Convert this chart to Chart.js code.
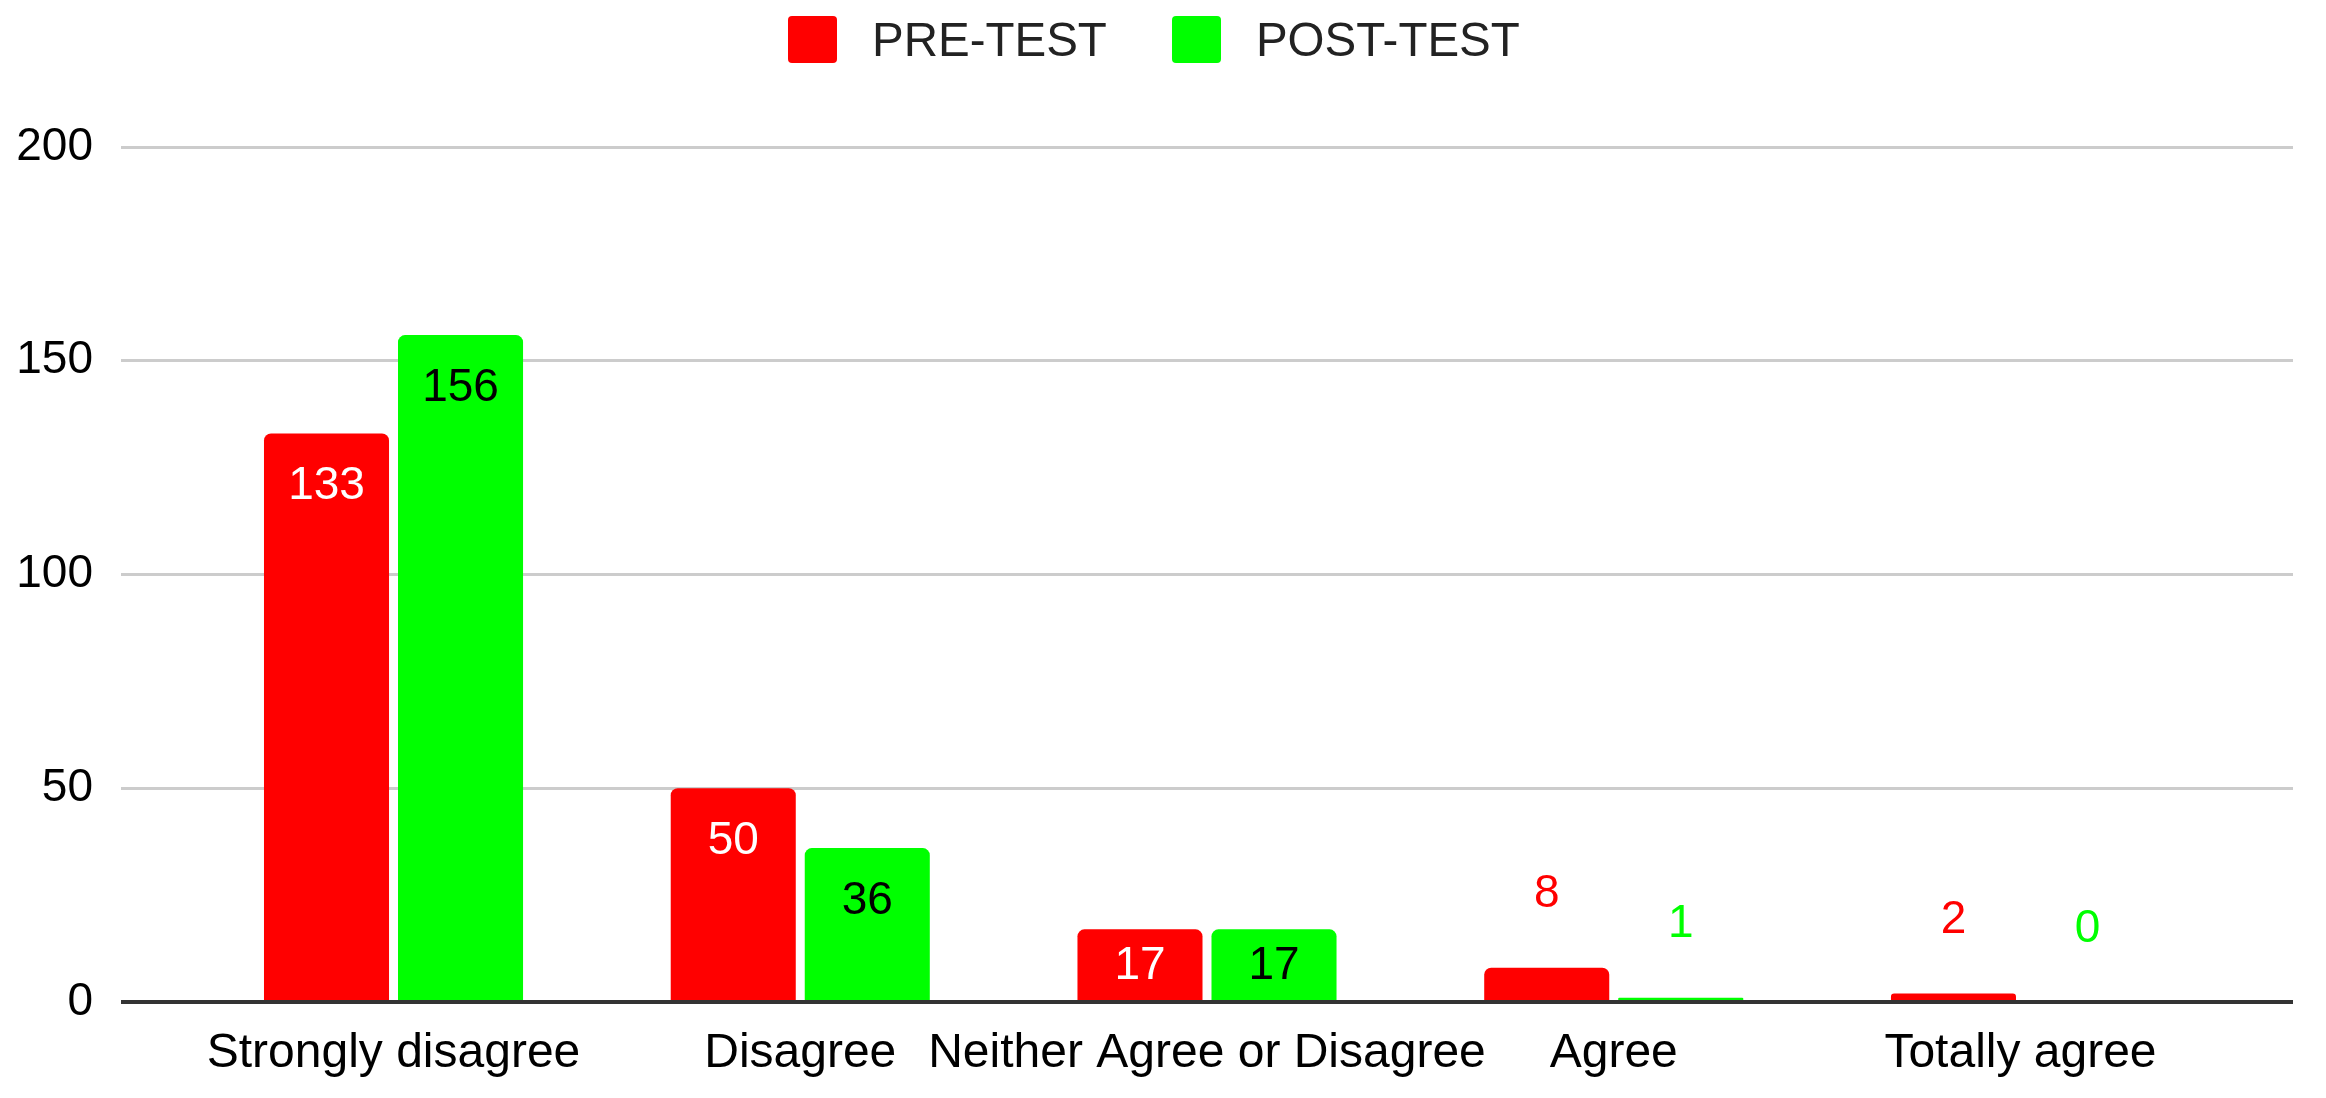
<!DOCTYPE html>
<html>
<head>
<meta charset="utf-8">
<script src="https://cdn.jsdelivr.net/npm/chart.js@4/dist/chart.umd.min.js"></script>
<style>
    html, body { margin: 0; padding: 0; background: #ffffff; }
    #wrap { position: relative; width: 2326px; height: 1098px; }
    #legend {
        position: absolute; top: 16px; left: 788px;
        display: flex; align-items: center;
        font-family: "Liberation Sans", Arial, sans-serif; font-size: 47.5px; color: #222222;
    }
    #legend .box { width: 49px; height: 47px; border-radius: 4px; margin-right: 35px; }
    #legend .item { display: flex; align-items: center; margin-right: 65px; line-height: 47px; }
</style>
</head>
<body>
<div id="wrap">
    <canvas id="surveyChart" width="2326" height="1098"></canvas>
    <div id="legend"></div>
</div>
<script>
const categories = ['Strongly disagree', 'Disagree', 'Neither Agree or Disagree', 'Agree', 'Totally agree'];
const preTest = [133, 50, 17, 8, 2];
const postTest = [156, 36, 17, 1, 0];
const seriesNames = ['PRE-TEST', 'POST-TEST'];
const seriesColors = ['#ff0000', '#00ff00'];
const insideLabelColors = ['#ffffff', '#000000'];
const yTicks = [0, 50, 100, 150, 200];

const FONT = '"Liberation Sans", Arial, sans-serif';

// value labels on / above each bar
const valueLabels = {
    id: 'valueLabels',
    afterDatasetsDraw(chart) {
        const ctx = chart.ctx;
        ctx.save();
        ctx.font = '46px ' + FONT;
        ctx.textAlign = 'center';
        ctx.textBaseline = 'middle';
        chart.data.datasets.forEach((ds, di) => {
            const meta = chart.getDatasetMeta(di);
            meta.data.forEach((bar, i) => {
                const { x, y, base } = bar.getProps(['x', 'y', 'base'], true);
                const h = base - y;
                let ly;
                if (h >= 100) {
                    ctx.fillStyle = insideLabelColors[di];
                    ly = y + 53;
                } else if (h >= 50) {
                    ctx.fillStyle = insideLabelColors[di];
                    ly = (y + base) / 2 + 2;
                } else {
                    ctx.fillStyle = seriesColors[di];
                    ly = y - 73;
                }
                ctx.fillText(String(ds.data[i].y), x, ly);
            });
        });
        ctx.restore();
    }
};

const legendEl = document.getElementById('legend');
seriesNames.forEach((name, i) => {
    const item = document.createElement('div');
    item.className = 'item';
    const box = document.createElement('div');
    box.className = 'box';
    box.style.background = seriesColors[i];
    const label = document.createElement('span');
    label.textContent = name;
    item.appendChild(box);
    item.appendChild(label);
    legendEl.appendChild(item);
});

const ctx = document.getElementById('surveyChart').getContext('2d');
new Chart(ctx, {
    type: 'bar',
    data: {
        datasets: [preTest, postTest].map((values, di) => ({
            label: seriesNames[di],
            data: values.map((v, i) => ({ x: i, y: v })),
            backgroundColor: seriesColors[di],
            borderWidth: 0,
            borderRadius: 7,
            categoryPercentage: 0.659,
            barPercentage: 0.933
        }))
    },
    options: {
        responsive: false,
        devicePixelRatio: 1,
        animation: false,
        layout: { padding: { top: 147, right: 33, bottom: 0, left: 0 } },
        plugins: {
            legend: { display: false },
            tooltip: { enabled: false }
        },
        scales: {
            x: {
                type: 'linear',
                offset: false,
                min: -0.67,
                max: 4.67,
                grid: { display: false, drawTicks: false },
                border: { display: false },
                afterBuildTicks: (axis) => {
                    axis.ticks = categories.map((_, i) => ({ value: i }));
                },
                afterFit: (axis) => { axis.height = 96; },
                ticks: {
                    autoSkip: false,
                    maxRotation: 0,
                    padding: 23,
                    color: '#000000',
                    font: { family: FONT, size: 48 },
                    callback: (v) => categories[v]
                }
            },
            y: {
                min: 0,
                max: 200,
                afterBuildTicks: (axis) => {
                    axis.ticks = yTicks.map(v => ({ value: v }));
                },
                afterFit: (axis) => { axis.width = 121; },
                grid: {
                    drawTicks: false,
                    color: (c) => c.tick && c.tick.value === 0 ? '#333333' : '#cccccc',
                    lineWidth: (c) => c.tick && c.tick.value === 0 ? 4 : 3
                },
                border: { display: false },
                ticks: {
                    padding: 28,
                    color: '#000000',
                    font: { family: FONT, size: 46 }
                }
            }
        }
    },
    plugins: [valueLabels]
});
</script>
</body>
</html>
